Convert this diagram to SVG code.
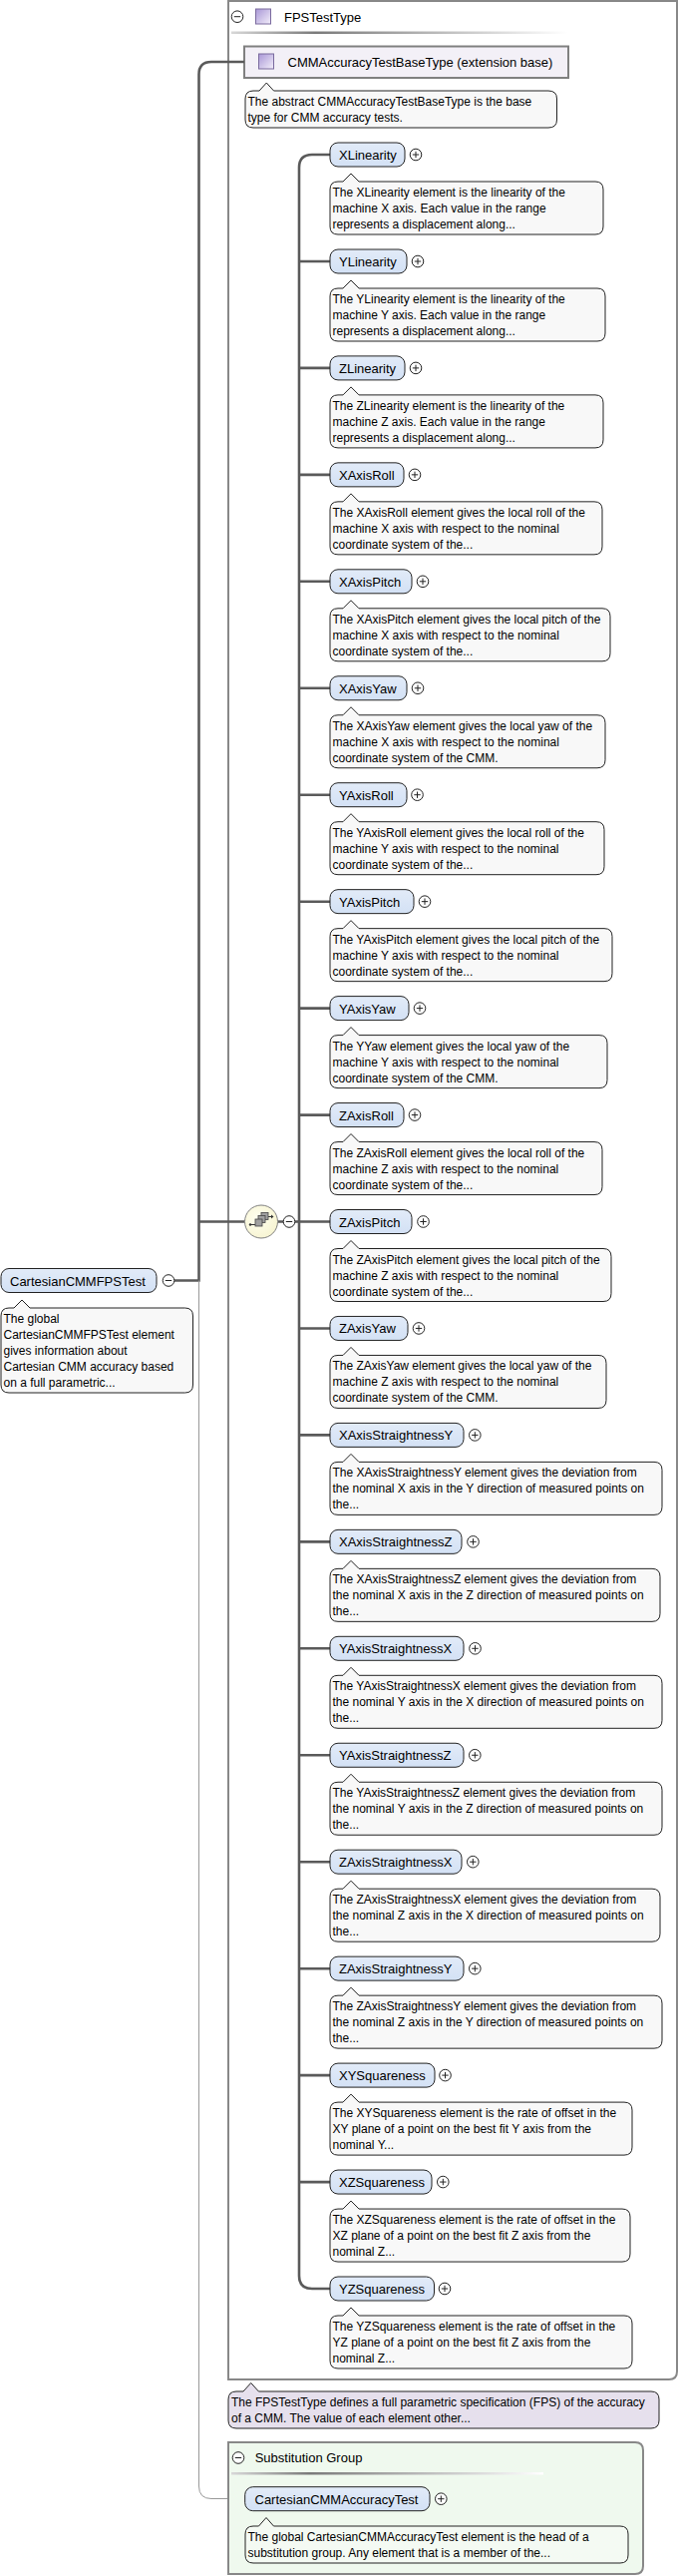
<svg xmlns="http://www.w3.org/2000/svg" width="681" height="2582" viewBox="0 0 681 2582">
<style>
text{font-family:"Liberation Sans",Arial,sans-serif;fill:#000}
.lbl{font-size:13px}
.cap{font-size:12px}
.el{fill:url(#elg);stroke:#222;stroke-width:1}
.co{fill:#f8f8f8;stroke:#222;stroke-width:1}
.pm{fill:#fff;stroke:#222;stroke-width:1}
.pl{stroke:#222;stroke-width:1;fill:none}
.thick{fill:none;stroke:#5a5a5a;stroke-width:2.6}
.thin{fill:none;stroke:#999;stroke-width:1}
</style>
<defs>
<linearGradient id="elg" x1="0" y1="0" x2="0" y2="1"><stop offset="0" stop-color="#e2ebf8"/><stop offset="1" stop-color="#d3e1f5"/></linearGradient>
<linearGradient id="ico" x1="0" y1="0" x2="1" y2="1"><stop offset="0" stop-color="#a997d6"/><stop offset="1" stop-color="#f3effa"/></linearGradient>
<linearGradient id="hl" x1="0" y1="0" x2="1" y2="0"><stop offset="0" stop-color="#d8d8d8"/><stop offset="0.25" stop-color="#7a7a7a"/><stop offset="0.6" stop-color="#b8b8b8"/><stop offset="1" stop-color="#ffffff"/></linearGradient>
<radialGradient id="cmp" cx="0.4" cy="0.4" r="0.7"><stop offset="0" stop-color="#fffff0"/><stop offset="1" stop-color="#f6f3cf"/></radialGradient>
<g id="plus"><circle class="pm" cx="0" cy="0" r="5.8"/><path class="pl" d="M-3.2,0H3.2M0,-3.2V3.2"/></g>
<g id="minus"><circle class="pm" cx="0" cy="0" r="5.8"/><path class="pl" d="M-3.2,0H3.2"/></g>
</defs>

<!-- FPSTestType container -->
<g id="fpstesttype">
<path d="M229,1H679V2377Q679,2385 671,2385H229Z" fill="#fff" stroke="#888" stroke-width="2"/>
<use href="#minus" x="238" y="16.7"/>
<rect x="256.5" y="9" width="15" height="15" fill="url(#ico)" stroke="#7a6a9e" stroke-width="1"/>
<text class="lbl" x="285" y="21.5">FPSTestType</text>
<rect x="232" y="31.5" width="337" height="2.5" fill="url(#hl)"/>
</g>

<g id="cmmbase">
<rect x="245" y="46.5" width="325" height="31.5" fill="#f3f0f7" stroke="#808080" stroke-width="2"/>
<rect x="259.5" y="54" width="15" height="15" fill="url(#ico)" stroke="#7a6a9e" stroke-width="1"/>
<text class="lbl" x="288.5" y="67">CMMAccuracyTestBaseType (extension base)</text>
<path class="co" d="M254,91H260L267.3,83L274.6,91H550Q558.5,91 558.5,99V120Q558.5,128 550,128H254Q246,128 246,120V99Q246,91 254,91Z"/>
<text class="cap" x="248.5" y="106">The abstract CMMAccuracyTestBaseType is the base</text>
<text class="cap" x="248.5" y="122">type for CMM accuracy tests.</text>
</g>

<!-- connectors -->
<g id="connectors">
<path class="thick" d="M245,62H212Q199.5,62 199.5,74.5V1283.5H175"/>
<path class="thick" d="M199.5,1224.5H245.5M278.5,1224.5H284.2M295.8,1224.5H300"/>
<path class="thick" d="M331,155H313Q300,155 300,168V2281Q300,2294 313,2294H331"/>
<path class="thick" d="M300,262H331M300,368.9H331M300,475.9H331M300,582.8H331M300,689.8H331M300,796.7H331M300,903.7H331M300,1010.6H331M300,1117.6H331M300,1224.5H331M300,1331.5H331M300,1438.4H331M300,1545.4H331M300,1652.3H331M300,1759.3H331M300,1866.2H331M300,1973.2H331M300,2080.1H331M300,2187.1H331"/>
<path class="thin" d="M199.5,1283.5V2492Q199.5,2504.5 212,2504.5H245.7"/>
</g>

<!-- root element -->
<g id="cartesiancmmfpstest">
<rect class="el" x="1" y="1271.5" width="156" height="24" rx="8"/>
<text class="lbl" x="10" y="1288.5">CartesianCMMFPSTest</text>
<use href="#minus" x="169" y="1283.5"/>
<path class="co" d="M9,1311H14L22,1303L30,1311H185.5Q193.5,1311 193.5,1319V1388Q193.5,1396 185.5,1396H9Q1,1396 1,1388V1319Q1,1311 9,1311Z"/>
<text class="cap" x="3.5" y="1326">The global</text>
<text class="cap" x="3.5" y="1342">CartesianCMMFPSTest element</text>
<text class="cap" x="3.5" y="1358">gives information about</text>
<text class="cap" x="3.5" y="1374">Cartesian CMM accuracy based</text>
<text class="cap" x="3.5" y="1390">on a full parametric...</text>
</g>

<!-- sequence compositor -->
<g id="sequence">
<circle cx="262" cy="1224.5" r="16.5" fill="url(#cmp)" stroke="#808080" stroke-width="1"/>
<path d="M251,1227.5H256M268.5,1219.5H273" stroke="#333" stroke-width="1"/>
<circle cx="251" cy="1227.5" r="1.2" fill="#333"/>
<rect x="262" y="1215.5" width="7" height="7" fill="#a0a0a0" stroke="#444" stroke-width="0.8"/>
<rect x="259" y="1218.5" width="7" height="7" fill="#a0a0a0" stroke="#444" stroke-width="0.8"/>
<rect x="256" y="1222" width="7" height="7" fill="#a0a0a0" stroke="#444" stroke-width="0.8"/>
<path d="M272,1217.5L274.5,1219.5L272,1221.5Z" fill="#333"/>
<use href="#minus" x="290" y="1224.5"/>
</g>

<!-- child elements -->
<g id="xlinearity" transform="translate(0,143)">
<rect class="el" x="331" y="0" width="75" height="24" rx="8"/><text class="lbl" x="340" y="17">XLinearity</text><use href="#plus" x="417" y="12"/>
<path class="co" d="M339,39H344L352,31L360,39H597Q605,39 605,47V84Q605,92 597,92H339Q331,92 331,84V47Q331,39 339,39Z"/>
<text class="cap" x="333.5" y="54">The XLinearity element is the linearity of the</text><text class="cap" x="333.5" y="70">machine X axis. Each value in the range</text><text class="cap" x="333.5" y="86">represents a displacement along...</text>
</g>
<g id="ylinearity" transform="translate(0,250)">
<rect class="el" x="331" y="0" width="77" height="24" rx="8"/><text class="lbl" x="340" y="17">YLinearity</text><use href="#plus" x="419" y="12"/>
<path class="co" d="M339,39H344L352,31L360,39H599Q607,39 607,47V84Q607,92 599,92H339Q331,92 331,84V47Q331,39 339,39Z"/>
<text class="cap" x="333.5" y="54">The YLinearity element is the linearity of the</text><text class="cap" x="333.5" y="70">machine Y axis. Each value in the range</text><text class="cap" x="333.5" y="86">represents a displacement along...</text>
</g>
<g id="zlinearity" transform="translate(0,356.9)">
<rect class="el" x="331" y="0" width="75" height="24" rx="8"/><text class="lbl" x="340" y="17">ZLinearity</text><use href="#plus" x="417" y="12"/>
<path class="co" d="M339,39H344L352,31L360,39H597Q605,39 605,47V84Q605,92 597,92H339Q331,92 331,84V47Q331,39 339,39Z"/>
<text class="cap" x="333.5" y="54">The ZLinearity element is the linearity of the</text><text class="cap" x="333.5" y="70">machine Z axis. Each value in the range</text><text class="cap" x="333.5" y="86">represents a displacement along...</text>
</g>
<g id="xaxisroll" transform="translate(0,463.85)">
<rect class="el" x="331" y="0" width="74" height="24" rx="8"/><text class="lbl" x="340" y="17">XAxisRoll</text><use href="#plus" x="416" y="12"/>
<path class="co" d="M339,39H344L352,31L360,39H596Q604,39 604,47V84Q604,92 596,92H339Q331,92 331,84V47Q331,39 339,39Z"/>
<text class="cap" x="333.5" y="54">The XAxisRoll element gives the local roll of the</text><text class="cap" x="333.5" y="70">machine X axis with respect to the nominal</text><text class="cap" x="333.5" y="86">coordinate system of the...</text>
</g>
<g id="xaxispitch" transform="translate(0,570.8)">
<rect class="el" x="331" y="0" width="82" height="24" rx="8"/><text class="lbl" x="340" y="17">XAxisPitch</text><use href="#plus" x="424" y="12"/>
<path class="co" d="M339,39H344L352,31L360,39H604Q612,39 612,47V84Q612,92 604,92H339Q331,92 331,84V47Q331,39 339,39Z"/>
<text class="cap" x="333.5" y="54">The XAxisPitch element gives the local pitch of the</text><text class="cap" x="333.5" y="70">machine X axis with respect to the nominal</text><text class="cap" x="333.5" y="86">coordinate system of the...</text>
</g>
<g id="xaxisyaw" transform="translate(0,677.75)">
<rect class="el" x="331" y="0" width="77" height="24" rx="8"/><text class="lbl" x="340" y="17">XAxisYaw</text><use href="#plus" x="419" y="12"/>
<path class="co" d="M339,39H344L352,31L360,39H599Q607,39 607,47V84Q607,92 599,92H339Q331,92 331,84V47Q331,39 339,39Z"/>
<text class="cap" x="333.5" y="54">The XAxisYaw element gives the local yaw of the</text><text class="cap" x="333.5" y="70">machine X axis with respect to the nominal</text><text class="cap" x="333.5" y="86">coordinate system of the CMM.</text>
</g>
<g id="yaxisroll" transform="translate(0,784.7)">
<rect class="el" x="331" y="0" width="77" height="24" rx="8"/><text class="lbl" x="340" y="17">YAxisRoll</text><use href="#plus" x="418.5" y="12"/>
<path class="co" d="M339,39H344L352,31L360,39H598Q606,39 606,47V84Q606,92 598,92H339Q331,92 331,84V47Q331,39 339,39Z"/>
<text class="cap" x="333.5" y="54">The YAxisRoll element gives the local roll of the</text><text class="cap" x="333.5" y="70">machine Y axis with respect to the nominal</text><text class="cap" x="333.5" y="86">coordinate system of the...</text>
</g>
<g id="yaxispitch" transform="translate(0,891.65)">
<rect class="el" x="331" y="0" width="84" height="24" rx="8"/><text class="lbl" x="340" y="17">YAxisPitch</text><use href="#plus" x="426" y="12"/>
<path class="co" d="M339,39H344L352,31L360,39H606Q614,39 614,47V84Q614,92 606,92H339Q331,92 331,84V47Q331,39 339,39Z"/>
<text class="cap" x="333.5" y="54">The YAxisPitch element gives the local pitch of the</text><text class="cap" x="333.5" y="70">machine Y axis with respect to the nominal</text><text class="cap" x="333.5" y="86">coordinate system of the...</text>
</g>
<g id="yaxisyaw" transform="translate(0,998.6)">
<rect class="el" x="331" y="0" width="79" height="24" rx="8"/><text class="lbl" x="340" y="17">YAxisYaw</text><use href="#plus" x="421" y="12"/>
<path class="co" d="M339,39H344L352,31L360,39H601Q609,39 609,47V84Q609,92 601,92H339Q331,92 331,84V47Q331,39 339,39Z"/>
<text class="cap" x="333.5" y="54">The YYaw element gives the local yaw of the</text><text class="cap" x="333.5" y="70">machine Y axis with respect to the nominal</text><text class="cap" x="333.5" y="86">coordinate system of the CMM.</text>
</g>
<g id="zaxisroll" transform="translate(0,1105.55)">
<rect class="el" x="331" y="0" width="74" height="24" rx="8"/><text class="lbl" x="340" y="17">ZAxisRoll</text><use href="#plus" x="416" y="12"/>
<path class="co" d="M339,39H344L352,31L360,39H596Q604,39 604,47V84Q604,92 596,92H339Q331,92 331,84V47Q331,39 339,39Z"/>
<text class="cap" x="333.5" y="54">The ZAxisRoll element gives the local roll of the</text><text class="cap" x="333.5" y="70">machine Z axis with respect to the nominal</text><text class="cap" x="333.5" y="86">coordinate system of the...</text>
</g>
<g id="zaxispitch" transform="translate(0,1212.5)">
<rect class="el" x="331" y="0" width="82" height="24" rx="8"/><text class="lbl" x="340" y="17">ZAxisPitch</text><use href="#plus" x="424.5" y="12"/>
<path class="co" d="M339,39H344L352,31L360,39H605Q613,39 613,47V84Q613,92 605,92H339Q331,92 331,84V47Q331,39 339,39Z"/>
<text class="cap" x="333.5" y="54">The ZAxisPitch element gives the local pitch of the</text><text class="cap" x="333.5" y="70">machine Z axis with respect to the nominal</text><text class="cap" x="333.5" y="86">coordinate system of the...</text>
</g>
<g id="zaxisyaw" transform="translate(0,1319.45)">
<rect class="el" x="331" y="0" width="78" height="24" rx="8"/><text class="lbl" x="340" y="17">ZAxisYaw</text><use href="#plus" x="420" y="12"/>
<path class="co" d="M339,39H344L352,31L360,39H600Q608,39 608,47V84Q608,92 600,92H339Q331,92 331,84V47Q331,39 339,39Z"/>
<text class="cap" x="333.5" y="54">The ZAxisYaw element gives the local yaw of the</text><text class="cap" x="333.5" y="70">machine Z axis with respect to the nominal</text><text class="cap" x="333.5" y="86">coordinate system of the CMM.</text>
</g>
<g id="xaxisstraightnessy" transform="translate(0,1426.4)">
<rect class="el" x="331" y="0" width="134" height="24" rx="8"/><text class="lbl" x="340" y="17">XAxisStraightnessY</text><use href="#plus" x="476.3" y="12"/>
<path class="co" d="M339,39H344L352,31L360,39H656Q664,39 664,47V84Q664,92 656,92H339Q331,92 331,84V47Q331,39 339,39Z"/>
<text class="cap" x="333.5" y="54">The XAxisStraightnessY element gives the deviation from</text><text class="cap" x="333.5" y="70">the nominal X axis in the Y direction of measured points on</text><text class="cap" x="333.5" y="86">the...</text>
</g>
<g id="xaxisstraightnessz" transform="translate(0,1533.35)">
<rect class="el" x="331" y="0" width="132" height="24" rx="8"/><text class="lbl" x="340" y="17">XAxisStraightnessZ</text><use href="#plus" x="474.5" y="12"/>
<path class="co" d="M339,39H344L352,31L360,39H654Q662,39 662,47V84Q662,92 654,92H339Q331,92 331,84V47Q331,39 339,39Z"/>
<text class="cap" x="333.5" y="54">The XAxisStraightnessZ element gives the deviation from</text><text class="cap" x="333.5" y="70">the nominal X axis in the Z direction of measured points on</text><text class="cap" x="333.5" y="86">the...</text>
</g>
<g id="yaxisstraightnessx" transform="translate(0,1640.3)">
<rect class="el" x="331" y="0" width="134" height="24" rx="8"/><text class="lbl" x="340" y="17">YAxisStraightnessX</text><use href="#plus" x="476.5" y="12"/>
<path class="co" d="M339,39H344L352,31L360,39H656Q664,39 664,47V84Q664,92 656,92H339Q331,92 331,84V47Q331,39 339,39Z"/>
<text class="cap" x="333.5" y="54">The YAxisStraightnessX element gives the deviation from</text><text class="cap" x="333.5" y="70">the nominal Y axis in the X direction of measured points on</text><text class="cap" x="333.5" y="86">the...</text>
</g>
<g id="yaxisstraightnessz" transform="translate(0,1747.25)">
<rect class="el" x="331" y="0" width="134" height="24" rx="8"/><text class="lbl" x="340" y="17">YAxisStraightnessZ</text><use href="#plus" x="476.3" y="12"/>
<path class="co" d="M339,39H344L352,31L360,39H656Q664,39 664,47V84Q664,92 656,92H339Q331,92 331,84V47Q331,39 339,39Z"/>
<text class="cap" x="333.5" y="54">The YAxisStraightnessZ element gives the deviation from</text><text class="cap" x="333.5" y="70">the nominal Y axis in the Z direction of measured points on</text><text class="cap" x="333.5" y="86">the...</text>
</g>
<g id="zaxisstraightnessx" transform="translate(0,1854.2)">
<rect class="el" x="331" y="0" width="132" height="24" rx="8"/><text class="lbl" x="340" y="17">ZAxisStraightnessX</text><use href="#plus" x="474.3" y="12"/>
<path class="co" d="M339,39H344L352,31L360,39H654Q662,39 662,47V84Q662,92 654,92H339Q331,92 331,84V47Q331,39 339,39Z"/>
<text class="cap" x="333.5" y="54">The ZAxisStraightnessX element gives the deviation from</text><text class="cap" x="333.5" y="70">the nominal Z axis in the X direction of measured points on</text><text class="cap" x="333.5" y="86">the...</text>
</g>
<g id="zaxisstraightnessy" transform="translate(0,1961.15)">
<rect class="el" x="331" y="0" width="134" height="24" rx="8"/><text class="lbl" x="340" y="17">ZAxisStraightnessY</text><use href="#plus" x="476.3" y="12"/>
<path class="co" d="M339,39H344L352,31L360,39H656Q664,39 664,47V84Q664,92 656,92H339Q331,92 331,84V47Q331,39 339,39Z"/>
<text class="cap" x="333.5" y="54">The ZAxisStraightnessY element gives the deviation from</text><text class="cap" x="333.5" y="70">the nominal Z axis in the Y direction of measured points on</text><text class="cap" x="333.5" y="86">the...</text>
</g>
<g id="xysquareness" transform="translate(0,2068.1)">
<rect class="el" x="331" y="0" width="105" height="24" rx="8"/><text class="lbl" x="340" y="17">XYSquareness</text><use href="#plus" x="446.5" y="12"/>
<path class="co" d="M339,39H344L352,31L360,39H626Q634,39 634,47V84Q634,92 626,92H339Q331,92 331,84V47Q331,39 339,39Z"/>
<text class="cap" x="333.5" y="54">The XYSquareness element is the rate of offset in the</text><text class="cap" x="333.5" y="70">XY plane of a point on the best fit Y axis from the</text><text class="cap" x="333.5" y="86">nominal Y...</text>
</g>
<g id="xzsquareness" transform="translate(0,2175.05)">
<rect class="el" x="331" y="0" width="102" height="24" rx="8"/><text class="lbl" x="340" y="17">XZSquareness</text><use href="#plus" x="444.3" y="12"/>
<path class="co" d="M339,39H344L352,31L360,39H624Q632,39 632,47V84Q632,92 624,92H339Q331,92 331,84V47Q331,39 339,39Z"/>
<text class="cap" x="333.5" y="54">The XZSquareness element is the rate of offset in the</text><text class="cap" x="333.5" y="70">XZ plane of a point on the best fit Z axis from the</text><text class="cap" x="333.5" y="86">nominal Z...</text>
</g>
<g id="yzsquareness" transform="translate(0,2282)">
<rect class="el" x="331" y="0" width="104.5" height="24" rx="8"/><text class="lbl" x="340" y="17">YZSquareness</text><use href="#plus" x="446" y="12"/>
<path class="co" d="M339,39H344L352,31L360,39H626Q634,39 634,47V84Q634,92 626,92H339Q331,92 331,84V47Q331,39 339,39Z"/>
<text class="cap" x="333.5" y="54">The YZSquareness element is the rate of offset in the</text><text class="cap" x="333.5" y="70">YZ plane of a point on the best fit Z axis from the</text><text class="cap" x="333.5" y="86">nominal Z...</text>
</g>

<!-- FPSTestType annotation -->
<g id="fpstesttype-doc">
<path d="M237,2397H244L251.7,2388.5L259.4,2397H653Q661,2397 661,2405V2426Q661,2434 653,2434H237Q229,2434 229,2426V2405Q229,2397 237,2397Z" fill="#e6e0ed" stroke="#222" stroke-width="1"/>
<text class="cap" x="232" y="2412">The FPSTestType defines a full parametric specification (FPS) of the accuracy</text>
<text class="cap" x="232" y="2428">of a CMM. The value of each element other...</text>
</g>

<!-- Substitution group -->
<g id="substitution-group">
<path d="M229,2448H637Q645,2448 645,2456V2572Q645,2580 637,2580H229Z" fill="#eff9ee" stroke="#888" stroke-width="2"/>
<use href="#minus" x="239" y="2463.5"/>
<text class="lbl" x="255.7" y="2468">Substitution Group</text>
<rect x="232" y="2478" width="313" height="2.5" fill="url(#hl)"/>
</g>
<g id="cartesiancmmaccuracytest">
<rect class="el" x="245.7" y="2492.7" width="185.3" height="24" rx="8"/>
<text class="lbl" x="255.5" y="2509.5">CartesianCMMAccuracyTest</text>
<use href="#plus" x="442.3" y="2504.7"/>
<path d="M254,2532H259.5L267,2523.5L274.5,2532H622Q630,2532 630,2540V2561Q630,2569 622,2569H254Q246,2569 246,2561V2540Q246,2532 254,2532Z" fill="#f4faf3" stroke="#222" stroke-width="1"/>
<text class="cap" x="248.5" y="2547">The global CartesianCMMAccuracyTest element is the head of a</text>
<text class="cap" x="248.5" y="2563">substitution group. Any element that is a member of the...</text>
</g>
</svg>
